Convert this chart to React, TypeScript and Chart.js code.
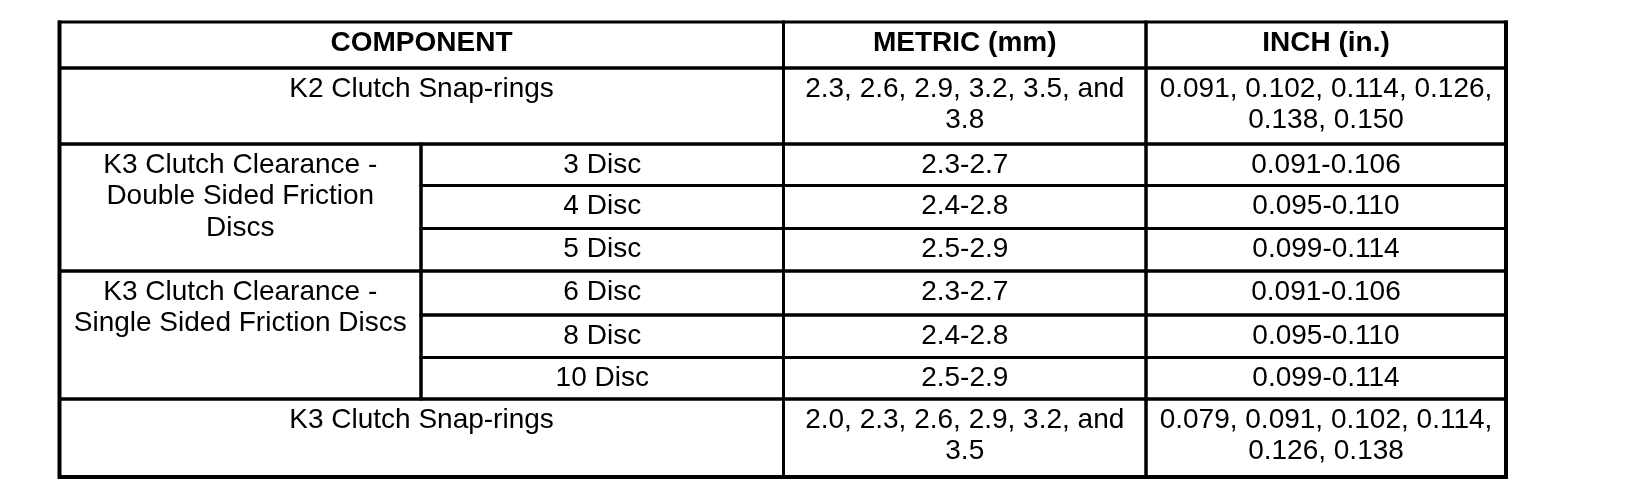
import { useEffect, useRef } from 'react';
import { Chart, registerables, Plugin } from 'chart.js';

Chart.register(...registerables);

// table content
const headers = ['COMPONENT', 'METRIC (mm)', 'INCH (in.)'];
const k2Label = 'K2 Clutch Snap-rings';
const k2Metric = ['2.3, 2.6, 2.9, 3.2, 3.5, and', '3.8'];
const k2Inch = ['0.091, 0.102, 0.114, 0.126,', '0.138, 0.150'];
const doubleLabel = ['K3 Clutch Clearance -', 'Double Sided Friction', 'Discs'];
const doubleDiscs = ['3 Disc', '4 Disc', '5 Disc'];
const doubleMetric = ['2.3-2.7', '2.4-2.8', '2.5-2.9'];
const doubleInch = ['0.091-0.106', '0.095-0.110', '0.099-0.114'];
const singleLabel = ['K3 Clutch Clearance -', 'Single Sided Friction Discs'];
const singleDiscs = ['6 Disc', '8 Disc', '10 Disc'];
const singleMetric = ['2.3-2.7', '2.4-2.8', '2.5-2.9'];
const singleInch = ['0.091-0.106', '0.095-0.110', '0.099-0.114'];
const k3Label = 'K3 Clutch Snap-rings';
const k3Metric = ['2.0, 2.3, 2.6, 2.9, 3.2, and', '3.5'];
const k3Inch = ['0.079, 0.091, 0.102, 0.114,', '0.126, 0.138'];

// grid layout (in scale units = page pixels)
const W = 1632;
const H = 502;
const colEdges = [59.5, 421, 783.5, 1146, 1506];
const rowEdges = [22, 68, 144, 185.5, 228.5, 271, 315, 357.5, 399, 477];
const FONT = '"Liberation Sans", Arial, Helvetica, sans-serif';
const LINE_H = 31.5;

interface Cell {
    r0: number;
    r1: number;
    c0: number;
    c1: number;
    lines: string[];
    bold?: boolean;
}

function buildCells(): Cell[] {
    const cells: Cell[] = [
        { r0: 0, r1: 1, c0: 0, c1: 2, lines: [headers[0]], bold: true },
        { r0: 0, r1: 1, c0: 2, c1: 3, lines: [headers[1]], bold: true },
        { r0: 0, r1: 1, c0: 3, c1: 4, lines: [headers[2]], bold: true },
        { r0: 1, r1: 2, c0: 0, c1: 2, lines: [k2Label] },
        { r0: 1, r1: 2, c0: 2, c1: 3, lines: k2Metric },
        { r0: 1, r1: 2, c0: 3, c1: 4, lines: k2Inch },
        { r0: 2, r1: 5, c0: 0, c1: 1, lines: doubleLabel },
        { r0: 5, r1: 8, c0: 0, c1: 1, lines: singleLabel },
        { r0: 8, r1: 9, c0: 0, c1: 2, lines: [k3Label] },
        { r0: 8, r1: 9, c0: 2, c1: 3, lines: k3Metric },
        { r0: 8, r1: 9, c0: 3, c1: 4, lines: k3Inch },
    ];
    doubleDiscs.forEach((d, i) => {
        cells.push({ r0: 2 + i, r1: 3 + i, c0: 1, c1: 2, lines: [d] });
        cells.push({ r0: 2 + i, r1: 3 + i, c0: 2, c1: 3, lines: [doubleMetric[i]] });
        cells.push({ r0: 2 + i, r1: 3 + i, c0: 3, c1: 4, lines: [doubleInch[i]] });
    });
    singleDiscs.forEach((d, i) => {
        cells.push({ r0: 5 + i, r1: 6 + i, c0: 1, c1: 2, lines: [d] });
        cells.push({ r0: 5 + i, r1: 6 + i, c0: 2, c1: 3, lines: [singleMetric[i]] });
        cells.push({ r0: 5 + i, r1: 6 + i, c0: 3, c1: 4, lines: [singleInch[i]] });
    });
    return cells;
}

const tablePlugin: Plugin = {
    id: 'specTable',
    afterDraw(chart) {
        const { ctx } = chart;
        const xs = chart.scales.x;
        const ys = chart.scales.y;
        const px = (v: number) => xs.getPixelForValue(v);
        const py = (v: number) => ys.getPixelForValue(v);
        const cells = buildCells();

        ctx.save();
        ctx.fillStyle = '#ffffff';
        ctx.fillRect(0, 0, chart.width, chart.height);

        // cell borders
        ctx.strokeStyle = '#000000';
        ctx.lineWidth = 3;
        cells.forEach(c => {
            const x0 = px(colEdges[c.c0]);
            const x1 = px(colEdges[c.c1]);
            const y0 = py(rowEdges[c.r0]);
            const y1 = py(rowEdges[c.r1]);
            ctx.strokeRect(x0, y0, x1 - x0, y1 - y0);
        });

        // heavier outer frame
        const L = px(colEdges[0]);
        const R = px(colEdges[colEdges.length - 1]);
        const T = py(rowEdges[0]);
        const B = py(rowEdges[rowEdges.length - 1]);
        ctx.lineWidth = 4;
        ctx.beginPath();
        ctx.moveTo(L, T - 1.5);
        ctx.lineTo(L, B);
        ctx.lineTo(R, B);
        ctx.lineTo(R, T - 1.5);
        ctx.stroke();

        // text
        ctx.fillStyle = '#000000';
        ctx.textAlign = 'center';
        ctx.textBaseline = 'alphabetic';
        cells.forEach(c => {
            ctx.font = `${c.bold ? 'bold ' : ''}28px ${FONT}`;
            const cx = (px(colEdges[c.c0]) + px(colEdges[c.c1])) / 2;
            const top = py(rowEdges[c.r0]);
            c.lines.forEach((line, i) => {
                ctx.fillText(line, cx, top + 28.5 + i * LINE_H);
            });
        });
        ctx.restore();
    },
};

export default function App() {
    const canvasRef = useRef<HTMLCanvasElement>(null);

    useEffect(() => {
        if (!canvasRef.current) return;
        const chart = new Chart(canvasRef.current, {
            type: 'scatter',
            data: { datasets: [{ data: [], pointRadius: 0 }] },
            options: {
                responsive: false,
                animation: false,
                devicePixelRatio: 1,
                layout: { padding: 0 },
                plugins: {
                    legend: { display: false },
                    tooltip: { enabled: false },
                },
                scales: {
                    x: { type: 'linear', min: 0, max: W, display: false },
                    y: { type: 'linear', min: 0, max: H, reverse: true, display: false },
                },
            },
            plugins: [tablePlugin],
        });
        return () => chart.destroy();
    }, []);

    return (
        <div style={{ position: 'absolute', left: 0, top: 0, width: W, height: H, background: '#fff' }}>
            <canvas ref={canvasRef} width={W} height={H} />
        </div>
    );
}
